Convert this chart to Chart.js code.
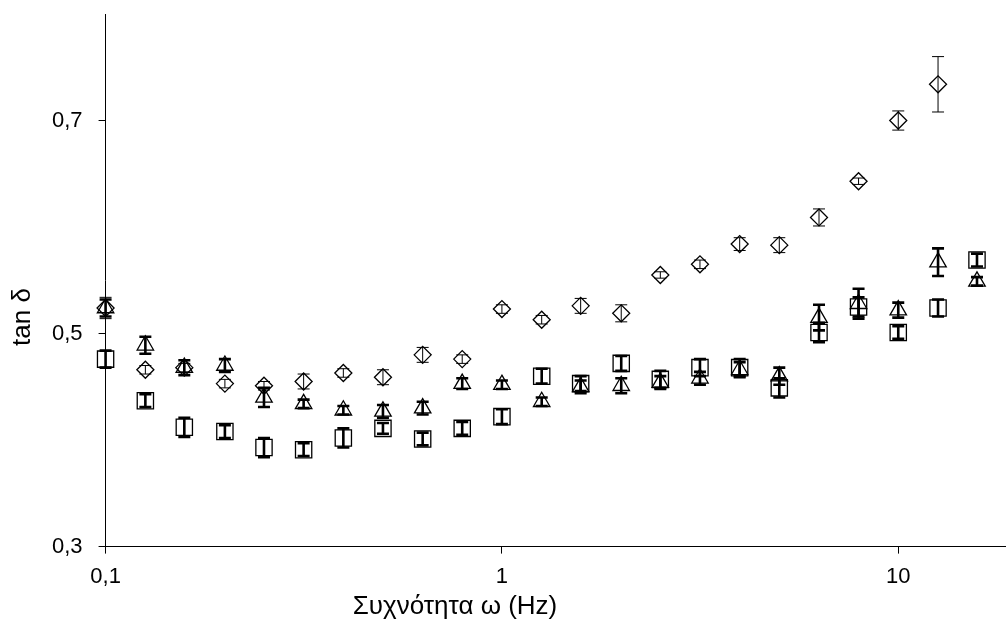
<!DOCTYPE html>
<html>
<head>
<meta charset="utf-8">
<script src="https://cdn.jsdelivr.net/npm/chart.js@4/dist/chart.umd.min.js"></script>
<style>
html, body { margin: 0; padding: 0; background: #fff; overflow: hidden; }
#wrap { width: 1006px; height: 625px; position: relative; }
</style>
</head>
<body>
<div id="wrap"><canvas id="chart"></canvas></div>
<script>
// ====== DATA ======
const freq = [0.1, 0.126, 0.158, 0.2, 0.251, 0.316, 0.398, 0.501, 0.631, 0.794,
              1, 1.26, 1.58, 2, 2.51, 3.16, 3.98, 5.01, 6.31, 7.94, 10, 12.6, 15.8];

const diamond = [0.524, 0.466, 0.468, 0.453, 0.451, 0.455, 0.463, 0.459, 0.480, 0.476,
                 0.523, 0.513, 0.526, 0.519, 0.555, 0.565, 0.584, 0.583, 0.609, 0.643, 0.700, 0.734, null];
const diamondErr = [0.010, 0.004, 0.004, 0.004, 0.004, 0.007, 0.004, 0.007, 0.007, 0.004,
                    0.004, 0.004, 0.007, 0.008, 0.003, 0.004, 0.006, 0.007, 0.008, 0.003, 0.009, 0.026, null];

const triangle = [0.524, 0.489, 0.468, 0.470, 0.440, 0.434, 0.428, 0.427, 0.430, 0.453,
                  0.452, 0.436, 0.450, 0.451, 0.454, 0.458, 0.466, 0.460, 0.515, 0.528, 0.522, 0.567, 0.549];
const triangleErr = [0.008, 0.008, 0.007, 0.006, 0.009, 0.004, 0.004, 0.006, 0.006, 0.005,
                     0.004, 0.004, 0.006, 0.007, 0.006, 0.006, 0.007, 0.008, 0.012, 0.014, 0.007, 0.013, 0.004];

const square = [0.476, 0.437, 0.412, 0.408, 0.393, 0.391, 0.402, 0.411, 0.401, 0.411,
                0.422, 0.460, 0.453, 0.472, 0.457, 0.468, 0.468, 0.449, 0.501, 0.525, 0.501, 0.524, 0.569];
const squareErr = [0.008, 0.006, 0.009, 0.006, 0.009, 0.006, 0.009, 0.005, 0.006, 0.006,
                   0.007, 0.007, 0.007, 0.007, 0.008, 0.008, 0.008, 0.009, 0.009, 0.009, 0.006, 0.008, 0.006];

const xTicks = [0.1, 1, 10];
const yTicks = [0.3, 0.5, 0.7];
const xTitle = "Συχνότητα ω (Hz)";
const yTitle = "tan δ";

const FONT = "'Liberation Sans', Arial, sans-serif";

// ====== HELPERS ======
function points(vals) {
  const out = [];
  freq.forEach((f, i) => { if (vals[i] != null) out.push({ x: f, y: vals[i] }); });
  return out;
}
function errs(vals, err) {
  return err.filter((e, i) => vals[i] != null);
}
const comma = v => String(v).replace(".", ",");

// ====== ERROR BARS ======
const errorBars = {
  id: "errorBars",
  afterDatasetsDraw(chart) {
    const { ctx, scales: { x, y } } = chart;
    ctx.save();
    ctx.strokeStyle = "#000";
    chart.data.datasets.forEach(ds => {
      ctx.lineWidth = ds.errWidth;
      ds.data.forEach((p, i) => {
        const e = ds.errors[i];
        const px = x.getPixelForValue(p.x);
        const top = y.getPixelForValue(p.y + e);
        const bot = y.getPixelForValue(p.y - e);
        ctx.beginPath();
        ctx.moveTo(px, top); ctx.lineTo(px, bot);
        ctx.moveTo(px - 6, top); ctx.lineTo(px + 6, top);
        ctx.moveTo(px - 6, bot); ctx.lineTo(px + 6, bot);
        ctx.stroke();
      });
    });
    ctx.restore();
  }
};

// axis titles sit off the plot centre in the original, so draw them by hand
const axisTitles = {
  id: "axisTitles",
  afterDraw(chart) {
    const ctx = chart.ctx;
    ctx.save();
    ctx.fillStyle = "#000";
    ctx.font = "26px " + FONT;
    ctx.textAlign = "center";
    ctx.textBaseline = "middle";
    ctx.fillText(xTitle, 455, chart.height - 18);
    ctx.translate(23, 317);
    ctx.rotate(-Math.PI / 2);
    ctx.fillText(yTitle, 0, 0);
    ctx.restore();
  }
};

// ====== CHART ======
new Chart(document.getElementById("chart"), {
  type: "scatter",
  data: {
    datasets: [
      { data: points(diamond), errors: errs(diamond, diamondErr), errWidth: 1,
        pointStyle: "rectRot", pointRadius: 8.5, pointBorderWidth: 1.3 },
      { data: points(triangle), errors: errs(triangle, triangleErr), errWidth: 2.6,
        pointStyle: "triangle", pointRadius: 9.5, pointBorderWidth: 1.3 },
      { data: points(square), errors: errs(square, squareErr), errWidth: 2.6,
        pointStyle: "rect", pointRadius: 11.5, pointBorderWidth: 1.3 }
    ].map(d => Object.assign(d, {
      borderColor: "#000", backgroundColor: "rgba(0,0,0,0)",
      pointBackgroundColor: "rgba(0,0,0,0)", pointBorderColor: "#000", clip: false
    }))
  },
  options: {
    responsive: true,
    maintainAspectRatio: false,
    animation: false,
    events: [],
    layout: { autoPadding: false, padding: { top: 14, right: 0, bottom: 25, left: 36 } },
    plugins: {
      legend: { display: false },
      tooltip: { enabled: false },
      title: { display: false }
    },
    scales: {
      x: {
        type: "logarithmic", min: 0.1, max: 18.7,
        afterBuildTicks: axis => { axis.ticks = xTicks.map(v => ({ value: v })); },
        ticks: { color: "#000", font: { family: FONT, size: 22 }, padding: 10,
                 maxRotation: 0, callback: v => comma(v) },
        grid: { drawOnChartArea: false, drawTicks: true, tickLength: 7, tickColor: "#000", tickWidth: 1 },
        border: { color: "#000", width: 1 }
      },
      y: {
        min: 0.3, max: 0.8,
        afterBuildTicks: axis => { axis.ticks = yTicks.map(v => ({ value: v })); },
        afterFit: axis => { axis.paddingTop = 0; },
        ticks: { color: "#000", font: { family: FONT, size: 22 }, padding: 16,
                 callback: v => comma(v) },
        grid: { drawOnChartArea: false, drawTicks: true, tickLength: 7, tickColor: "#000", tickWidth: 1 },
        border: { color: "#000", width: 1 }
      }
    }
  },
  plugins: [errorBars, axisTitles]
});
</script>
</body>
</html>
